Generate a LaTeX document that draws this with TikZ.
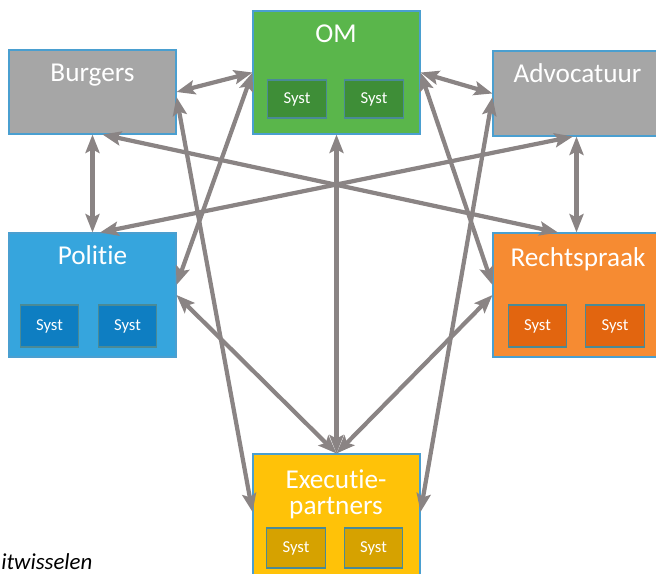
\documentclass[tikz,border=0pt]{standalone}
\usepackage{fontspec}
\setmainfont[Ligatures=NoCommon]{Carlito}
\usetikzlibrary{positioning, arrows.meta}

\definecolor{grijs}{HTML}{A6A6A6}
\definecolor{omgroen}{HTML}{5AB64B}
\definecolor{omsyst}{HTML}{3E8E37}
\definecolor{polblauw}{HTML}{36A5DD}
\definecolor{polsyst}{HTML}{0E7EC2}
\definecolor{rechtoranje}{HTML}{F68B32}
\definecolor{rechtsyst}{HTML}{E2650F}
\definecolor{execgeel}{HTML}{FFC208}
\definecolor{execsyst}{HTML}{D6A200}
\definecolor{rand}{HTML}{4A9FD0}
\definecolor{systrand}{HTML}{4A8A96}
\definecolor{pijl}{HTML}{8A8484}

\tikzset{
  partij/.style={draw=rand, line width=0.6pt, minimum width=3.34cm, inner sep=0pt},
  titel/.style={text=white, font=\fontsize{15.5}{18}\selectfont, anchor=base, inner sep=0pt},
  syst/.style={draw=systrand, line width=0.6pt, minimum width=1.17cm, minimum height=0.8cm,
    inner sep=0pt, text=white, font=\fontsize{9.5}{11}\selectfont},
  verbinding/.style={draw=pijl, line width=2.4pt, <->,
    >={Stealth[length=10.5pt, width=8pt, inset=2pt]}}
}

\begin{document}
\begin{tikzpicture}[x=0.02cm, y=-0.02cm]
                    \useasboundingbox (0, 0) rectangle (656, 574);
                    \node[partij, fill=grijs, minimum height=1.68cm] (burgers) at (92.5, 92) {};
                    \node[titel] (burgerstitel) at (92.5, 82) {Burgers};
                    \node[partij, fill=omgroen, minimum height=2.46cm] (om) at (336.5, 72.5) {};
                    \node[titel] (omtitel) at (336, 43) {OM};
                    \node[syst, fill=omsyst, minimum height=0.76cm] (omsyst1) at (297, 99) {Syst};
                    \node[syst, fill=omsyst, minimum height=0.76cm] (omsyst2) at (374, 99) {Syst};
                    \node[partij, fill=grijs, minimum height=1.7cm] (advocatuur) at (576.5, 93.5) {};
                    \node[titel] (advocatuurtitel) at (577.5, 83) {Advocatuur};
                    \node[partij, fill=polblauw, minimum height=2.48cm] (politie) at (92.5, 295) {};
                    \node[titel] (politietitel) at (92.5, 265) {Politie};
                    \node[syst, fill=polsyst, minimum height=0.84cm] (polsyst1) at (49.5, 326) {Syst};
                    \node[syst, fill=polsyst, minimum height=0.84cm] (polsyst2) at (127.5, 326) {Syst};
                    \node[partij, fill=rechtoranje, minimum height=2.48cm] (rechtspraak) at (576.5, 295) {};
                    \node[titel] (rechtspraaktitel) at (578, 267) {Rechtspraak};
                    \node[syst, fill=rechtsyst, minimum height=0.84cm] (rechtsyst1) at (537.5, 326) {Syst};
                    \node[syst, fill=rechtsyst, minimum height=0.84cm] (rechtsyst2) at (615, 326) {Syst};
                    \node[partij, fill=execgeel, minimum height=2.48cm] (executie) at (336.5, 516) {};
                    \node[titel] (executietitel1) at (336, 488) {Executie-};
                    \node[titel] (executietitel2) at (336, 514) {partners};
                    \node[syst, fill=execsyst] (execsyst1) at (296, 548) {Syst};
                    \node[syst, fill=execsyst] (execsyst2) at (373.5, 548) {Syst};
                    \node[anchor=base west, inner sep=0pt, font=\fontsize{13}{15}\selectfont\itshape] (uitwisselen) at (1, 569) {itwisselen};
                    \draw[verbinding] (burgers.east) -- (om.west);
                    \draw[verbinding] (om.east) -- (advocatuur.west);
                    \draw[verbinding] (burgers.south) -- (politie.north);
                    \draw[verbinding] (advocatuur.south) -- (rechtspraak.north);
                    \draw[verbinding] ([xshift=0.2cm]burgers.south) -- ([xshift=-0.37cm]rechtspraak.north);
                    \draw[verbinding] ([xshift=0.15cm]politie.north) -- ([xshift=-0.07cm]advocatuur.south);
                    \draw[verbinding] (om.south) -- (executie.north);
                    \draw[verbinding] (om.west) -- ([yshift=0.2cm]politie.east);
                    \draw[verbinding] (om.east) -- ([yshift=0.2cm]rechtspraak.west);
                    \draw[verbinding] ([yshift=-0.1cm]burgers.east) -- ([yshift=0.08cm]executie.west);
                    \draw[verbinding] ([yshift=-0.07cm]advocatuur.west) -- ([yshift=0.08cm]executie.east);
                    \draw[verbinding] (politie.east) -- (executie.north);
                    \draw[verbinding] (rechtspraak.west) -- (executie.north);
                \end{tikzpicture}
\end{document}
